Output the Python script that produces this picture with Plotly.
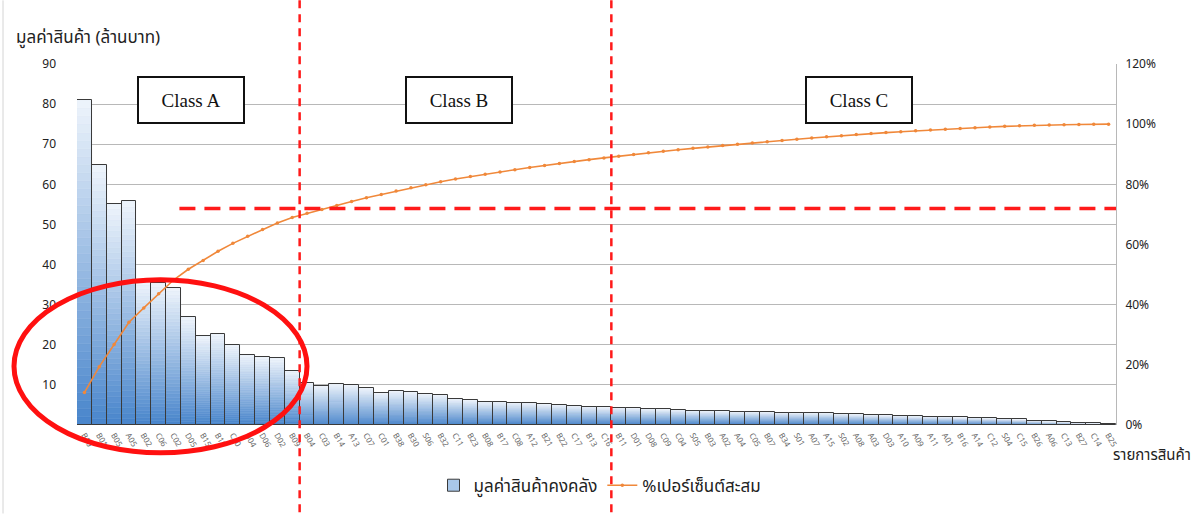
import numpy as np
import plotly.graph_objects as go

# Inventory items (sorted by value, descending) and their stock value in million baht
items = [
    "B10", "B01", "B05", "A05", "B02", "C06", "C02", "D05", "B15", "B19",
    "C10", "D04", "D06", "D02", "B09", "B04", "C03", "B14", "A13", "C07",
    "C01", "B38", "B30", "S06", "B32", "C11", "B23", "B08", "B17", "C08",
    "A12", "B21", "B22", "C17", "B13", "C16", "B11", "D01", "D08", "C09",
    "C04", "S05", "B03", "A02", "A04", "C05", "B07", "B34", "S01", "A07",
    "A15", "S02", "A08", "A03", "D03", "A10", "A09", "A11", "A01", "B16",
    "A14", "C12", "S04", "C15", "B26", "A06", "C13", "B27", "C14", "B25",
]
stock_value = [
    81.0, 64.8, 55.2, 55.8, 35.7, 35.4, 34.2, 26.9, 22.1, 22.7,
    19.9, 17.5, 16.9, 16.6, 13.5, 10.5, 9.6, 10.2, 10.0, 9.2,
    8.0, 8.5, 8.2, 7.8, 7.5, 6.6, 6.2, 5.8, 5.8, 5.6,
    5.5, 5.2, 5.0, 4.8, 4.6, 4.4, 4.3, 4.2, 4.0, 3.9,
    3.8, 3.6, 3.5, 3.4, 3.3, 3.3, 3.2, 3.1, 3.1, 3.0,
    3.0, 2.8, 2.7, 2.5, 2.4, 2.3, 2.2, 2.1, 2.0, 1.9,
    1.8, 1.7, 1.6, 1.4, 1.1, 0.9, 0.8, 0.6, 0.4, 0.3,
]
class_labels = ["Class A", "Class B", "Class C"]
class_a_count = 15
class_b_count = 21
cum_cutoff = 0.72

values = np.array(stock_value)
cum_pct = np.cumsum(values) / values.sum()

# pixel geometry of the plot area
W, H = 1194, 516
PL, PR, PT, PB = 77, 1116, 64, 427


def px(x):
    return (x - PL) / (PR - PL)


def py(y):
    return (PB - y) / (PB - PT)


THAI = "Tahoma, 'Noto Sans Thai', 'Noto Sans Thai UI', Loma, 'DejaVu Sans', sans-serif"

fig = go.Figure()

# vertical gradient inside each bar: stacked slices, dark at the base, light at the top
n_slices = 40
dark = np.array([74, 134, 204])
light = np.array([236, 243, 251])
for k in range(n_slices):
    t = k / (n_slices - 1)
    c = dark + (light - dark) * t
    col = "rgb(%d,%d,%d)" % tuple(c.round())
    fig.add_trace(go.Bar(
        x=items, y=values / n_slices, base=values * k / n_slices,
        marker=dict(color=col, line=dict(color=col, width=0.6)),
        showlegend=False, hoverinfo="skip",
    ))

# bar outlines
fig.add_trace(go.Bar(
    x=items, y=values, base=0,
    marker=dict(color="rgba(0,0,0,0)", line=dict(color="#3a3a3a", width=1)),
    showlegend=False, name="มูลค่าสินค้าคงคลัง",
))

# legend swatch for the bars
fig.add_trace(go.Bar(
    x=[None], y=[None], name="มูลค่าสินค้าคงคลัง",
    marker=dict(color="#a9c8ea", line=dict(color="#3a3a3a", width=1)),
))

# cumulative percentage line
fig.add_trace(go.Scatter(
    x=items, y=cum_pct, yaxis="y2", mode="lines+markers",
    name="%เปอร์เซ็นต์สะสม",
    line=dict(color="#f0883a", width=1.6),
    marker=dict(color="#f0883a", size=3.5),
))

shapes = []
# chart frame edge on the left
shapes.append(dict(type="line", xref="paper", yref="paper",
                   x0=px(3), x1=px(3), y0=py(0), y1=py(516),
                   line=dict(color="#d4d4d4", width=1)))
# class boundaries
for b in (class_a_count, class_a_count + class_b_count):
    shapes.append(dict(type="line", xref="x", yref="paper",
                       x0=b - 0.5, x1=b - 0.5, y0=py(0), y1=py(516),
                       line=dict(color="#ff1a1a", width=2.5, dash="8px,6px")))
# cumulative cut-off level
shapes.append(dict(type="line", xref="x", yref="y2",
                   x0=6.4, x1=69.5, y0=cum_cutoff, y1=cum_cutoff,
                   line=dict(color="#ff1a1a", width=3.5, dash="16px,9px")))
# highlight ellipse around the class A bars
shapes.append(dict(type="circle", xref="paper", yref="paper",
                   x0=px(14), x1=px(307), y0=py(455), y1=py(281),
                   line=dict(color="#ff1010", width=5)))

annotations = []
for lab, cx in zip(class_labels, (191, 459, 859)):
    annotations.append(dict(
        text=lab, xref="paper", yref="paper", x=px(cx), y=py(100),
        showarrow=False, xanchor="center", yanchor="middle",
        width=104, height=44, bgcolor="white",
        bordercolor="#111", borderwidth=2, borderpad=0,
        font=dict(family="'Liberation Serif', 'Times New Roman', serif", size=19, color="#111"),
    ))
annotations.append(dict(
    text="มูลค่าสินค้า (ล้านบาท)", xref="paper", yref="paper",
    x=px(14), y=py(38), xanchor="left", yanchor="middle", showarrow=False,
    font=dict(family=THAI, size=17, color="#222"),
))
annotations.append(dict(
    text="รายการสินค้า", xref="paper", yref="paper",
    x=px(1193), y=py(458), xanchor="right", yanchor="middle", showarrow=False,
    font=dict(family=THAI, size=15, color="#222"),
))

fig.update_layout(
    width=W, height=H, autosize=False,
    margin=dict(l=PL, r=W - PR, t=PT, b=H - PB),
    paper_bgcolor="white", plot_bgcolor="white",
    barmode="overlay", bargap=0,
    font=dict(family=THAI, size=12, color="#222"),
    xaxis=dict(
        type="category", range=[-0.5, len(items) - 0.5],
        tickangle=60, tickfont=dict(size=8, color="#6a6a6a"),
        ticklabelstandoff=3,
        showgrid=False, showline=False, ticks="", zeroline=False,
    ),
    yaxis=dict(
        range=[0, 90], tickvals=list(range(10, 100, 10)),
        showgrid=True, gridcolor="#b8b8b8", gridwidth=1,
        showline=False, zeroline=False, ticks="",
        ticklabelstandoff=20, tickfont=dict(size=12, color="#222"),
    ),
    yaxis2=dict(
        overlaying="y", side="right", range=[0, 1.2], dtick=0.2,
        tickformat=".0%", showgrid=False, zeroline=False,
        showline=True, linecolor="#b8b8b8", linewidth=1, ticks="",
        ticklabelstandoff=6, tickfont=dict(size=12, color="#222"),
    ),
    legend=dict(
        orientation="h", x=px(600), y=py(488), xanchor="center", yanchor="middle",
        font=dict(family=THAI, size=17, color="#222"), itemwidth=30,
        bgcolor="rgba(0,0,0,0)", traceorder="normal",
    ),
    shapes=shapes,
    annotations=annotations,
)

fig.write_html("out.html")
